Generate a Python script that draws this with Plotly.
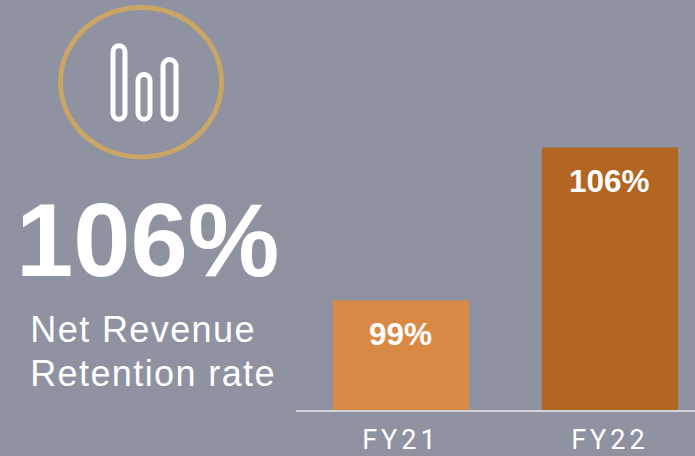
import plotly.graph_objects as go

W, H = 695, 456
categories = ["FY21", "FY22"]
values = [99, 106]
value_labels = ["99%", "106%"]
tick_labels = ["FY21", "FY22"]
bar_colors = ["#DA8944", "#B26622"]
BG = "#8F93A1"
FONT = "Roboto"
HEAD = "Liberation Sans"

def px(x): return x / W
def py(y): return 1 - y / H

def pill(x0, x1, y0, y1):
    r = (x1 - x0) / 2
    k = 0.55 * r
    X0, X1, Y0, Y1 = x0, x1, y0, y1
    return dict(
        type="path", xref="paper", yref="paper",
        path=(f"M {px(X0)} {py(Y0 + r)} "
              f"C {px(X0)} {py(Y0 + r - k)} {px(X0 + r - k)} {py(Y0)} {px(X0 + r)} {py(Y0)} "
              f"C {px(X0 + r + k)} {py(Y0)} {px(X1)} {py(Y0 + r - k)} {px(X1)} {py(Y0 + r)} "
              f"L {px(X1)} {py(Y1 - r)} "
              f"C {px(X1)} {py(Y1 - r + k)} {px(X0 + r + k)} {py(Y1)} {px(X0 + r)} {py(Y1)} "
              f"C {px(X0 + r - k)} {py(Y1)} {px(X0)} {py(Y1 - r + k)} {px(X0)} {py(Y1 - r)} Z"),
        line=dict(color="white", width=5), fillcolor="rgba(0,0,0,0)",
    )

fig = go.Figure(go.Bar(x=categories, y=values, marker=dict(color=bar_colors, line_width=0),
                       width=0.651, hoverinfo="skip"))

shapes = [
    dict(type="circle", xref="paper", yref="paper",
         x0=px(60.5), x1=px(221.5), y0=py(158), y1=py(7.5),
         line=dict(color="#CBA565", width=5), fillcolor="rgba(0,0,0,0)"),
    pill(113, 125, 46, 120),
    pill(138, 150, 75, 120),
    pill(163, 176, 60, 120),
]

annotations = [
    dict(xref="paper", yref="paper", x=px(147.5), y=py(242), text="<b>106%</b>", showarrow=False,
         font=dict(family=HEAD, size=103, color="white"), xanchor="center", yanchor="middle"),
    dict(xref="paper", yref="paper", x=px(36), y=py(331.5), text="Net Revenue", showarrow=False,
         font=dict(family=HEAD, size=36, color="white"), xanchor="left", yanchor="middle"),
    dict(xref="paper", yref="paper", x=px(38), y=py(376), text="Retention rate", showarrow=False,
         font=dict(family=HEAD, size=36, color="white"), xanchor="left", yanchor="middle"),
]
for c, v, t in zip(categories, values, value_labels):
    annotations.append(dict(x=c, y=v, xref="x", yref="y", text=f"<b>{t}</b>", showarrow=False,
                            yanchor="middle", yshift=-33,
                            font=dict(family=HEAD, size=31.5, color="white")))

fig.update_layout(
    width=W, height=H, autosize=False,
    margin=dict(l=0, r=0, t=0, b=0),
    paper_bgcolor=BG, plot_bgcolor=BG,
    showlegend=False, shapes=shapes, annotations=annotations,
    xaxis=dict(domain=[296 / W, 1], range=[-0.502, 1.407], type="category",
               tickmode="array", tickvals=categories, ticktext=tick_labels,
               showgrid=False, ticks="", zeroline=False,
               showline=True, linecolor="#D2D3D6", linewidth=2,
               ticklabelstandoff=5,
               tickfont=dict(family=FONT, size=27, color="white")),
    yaxis=dict(domain=[(H - 412.6) / H, 1], range=[94, 94 + 412.6 / 22], visible=False),
)
post = """
document.documentElement.style.background='%s';
document.body.style.margin='0';
document.body.style.overflow='hidden';
document.querySelectorAll('.xtick text').forEach(function(t){t.style.letterSpacing='4px';});
document.querySelectorAll('.annotation-text').forEach(function(t){
  if(/Net|Retention/.test(t.textContent)){t.style.letterSpacing='1.4px';}
});
""" % BG
fig.write_html("out.html", config=dict(displayModeBar=False), post_script=post)
